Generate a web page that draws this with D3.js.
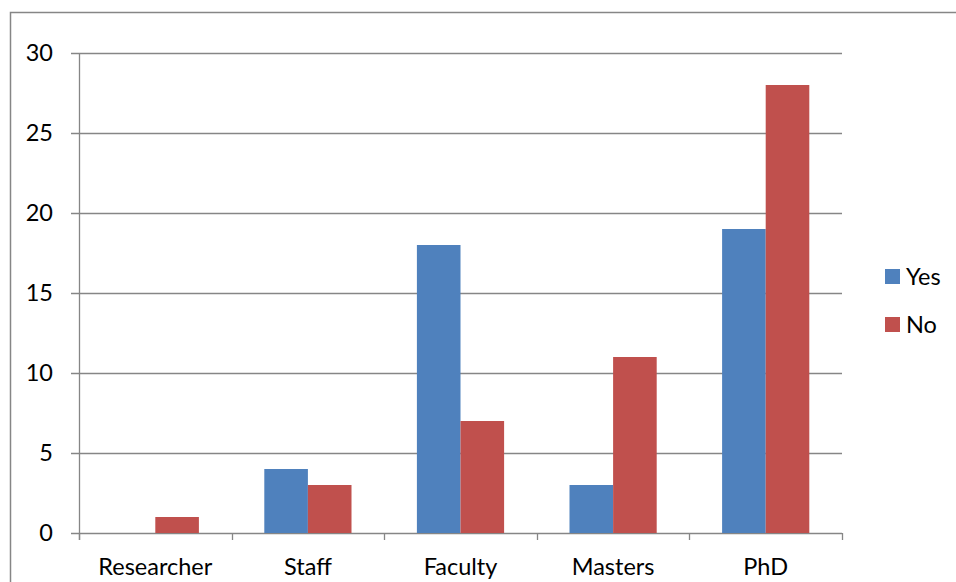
<!DOCTYPE html>
<html><head><meta charset="utf-8">
<script src="https://cdn.jsdelivr.net/npm/d3@7"></script>
<style>body{margin:0;background:#fff}svg{display:block}text{font-family:Lato,"Open Sans",sans-serif;fill:#000}</style>
</head><body>
<script>
const categories = ["Researcher","Staff","Faculty","Masters","PhD"];
const seriesNames = ["Yes","No"];
const yesValues = [0,4,18,3,19];
const noValues = [1,3,7,11,28];
const yTicks = [0,5,10,15,20,25,30];
const colors = ["#4F81BD","#C0504D"];

const W=956,H=582,FS="23.5px";
const svg=d3.select("body").append("svg").attr("width",W).attr("height",H);
svg.append("rect").attr("x",10.5).attr("y",12.5).attr("width",1000).attr("height",1000)
  .attr("fill","none").attr("stroke","#868686").attr("stroke-width",1.5);

const L=79,R=842,T=53,B=533;
const x=d3.scaleBand().domain(categories).range([L,R]).paddingInner(0).paddingOuter(0);
const y=d3.scaleLinear().domain([0,30]).range([B,T]);
const gw=x.bandwidth()/3.5*2;
const xs=d3.scaleBand().domain(seriesNames).range([0,gw]);

svg.append("g").selectAll("line").data(yTicks).join("line")
  .attr("x1",L-8).attr("x2",R).attr("y1",d=>Math.round(y(d))+0.5).attr("y2",d=>Math.round(y(d))+0.5)
  .attr("stroke","#868686").attr("stroke-width",1.3);
svg.append("line").attr("x1",L+0.5).attr("x2",L+0.5).attr("y1",T).attr("y2",B+7).attr("stroke","#868686").attr("stroke-width",1.3);
svg.append("g").selectAll("line").data(d3.range(categories.length+1)).join("line")
  .attr("x1",i=>Math.round(L+i*x.step())+0.5).attr("x2",i=>Math.round(L+i*x.step())+0.5)
  .attr("y1",B).attr("y2",B+7).attr("stroke","#868686").attr("stroke-width",1.3);

const data=categories.map((c,i)=>({c,vals:[yesValues[i],noValues[i]]}));
const g=svg.append("g").selectAll("g").data(data).join("g")
  .attr("transform",d=>`translate(${x(d.c)+(x.bandwidth()-gw)/2},0)`);
g.selectAll("rect").data(d=>d.vals.map((v,j)=>({v,s:seriesNames[j],j}))).join("rect")
  .attr("x",d=>xs(d.s)).attr("width",xs.bandwidth())
  .attr("y",d=>y(d.v)).attr("height",d=>B-y(d.v))
  .attr("fill",d=>colors[d.j]);

svg.append("g").selectAll("text").data(yTicks).join("text")
  .attr("x",53).attr("y",d=>y(d)).attr("dy","0.35em").attr("text-anchor","end")
  .style("font-size",FS).text(d=>d);
svg.append("g").selectAll("text").data(categories).join("text")
  .attr("x",d=>x(d)+x.bandwidth()/2).attr("y",575).attr("text-anchor","middle")
  .style("font-size",FS).text(d=>d);
const lg=svg.append("g").selectAll("g").data(seriesNames).join("g")
  .attr("transform",(d,i)=>`translate(885,${269+i*48})`);
lg.append("rect").attr("width",15).attr("height",15).attr("fill",(d,i)=>colors[i]);
lg.append("text").attr("x",21).attr("y",7.5).attr("dy","0.35em").style("font-size",FS).text(d=>d);
</script>
</body></html>
